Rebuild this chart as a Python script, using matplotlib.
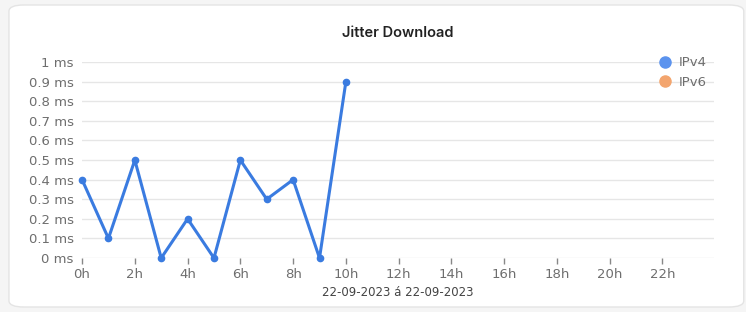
import matplotlib.pyplot as plt
from matplotlib.patches import FancyBboxPatch
from matplotlib.lines import Line2D

# Jitter per hour (ms)
hours = [0, 1, 2, 3, 4, 5, 6, 7, 8, 9, 10]
ipv4_jitter = [0.4, 0.1, 0.5, 0.0, 0.2, 0.0, 0.5, 0.3, 0.4, 0.0, 0.9]
x_ticks = list(range(0, 24, 2))
x_tick_labels = [f"{h}h" for h in x_ticks]
y_ticks = [0, 0.1, 0.2, 0.3, 0.4, 0.5, 0.6, 0.7, 0.8, 0.9, 1]
y_tick_labels = [f"{v:g} ms" for v in y_ticks]
series_names = ["IPv4", "IPv6"]
series_colors = ["#5b93ee", "#f3a56e"]

fig = plt.figure(figsize=(7.46, 3.12), dpi=100)
fig.patch.set_facecolor("#f5f5f5")

# card background
card = FancyBboxPatch((0.012, 0.016), 0.985, 0.968, boxstyle="round,pad=0,rounding_size=0.02",
                      transform=fig.transFigure, facecolor="white", edgecolor="#e4e4e4",
                      linewidth=1, zorder=-10)
fig.patches.append(card)

ax = fig.add_axes([0.110, 0.173, 0.847, 0.628])
ax.set_facecolor("none")
ax.plot(hours, ipv4_jitter, color="#3a7be0", linewidth=2.2, marker="o",
        markersize=4.5, clip_on=False, zorder=3)

ax.set_xlim(0, 23.95)
ax.set_ylim(0, 1)
ax.set_xticks(x_ticks)
ax.set_xticklabels(x_tick_labels)
ax.set_yticks(y_ticks)
ax.set_yticklabels(y_tick_labels)
ax.tick_params(axis="x", colors="#888888", labelcolor="#6e6e6e", length=4, width=1,
               direction="out", labelsize=9.5, pad=3)
ax.tick_params(axis="y", length=0, labelcolor="#6e6e6e", labelsize=9.5, pad=6)
ax.grid(axis="y", color="#e6e6e6", linewidth=1)
ax.set_axisbelow(True)
for s in ax.spines.values():
    s.set_visible(False)

ax.set_title("Jitter Download", fontsize=10.5, fontweight="semibold", color="#222222",
             family="Inter", pad=18)
ax.set_xlabel("22-09-2023 á 22-09-2023", fontsize=8.5, color="#444444", labelpad=4)

handles = [Line2D([], [], linestyle="none", marker="o", markersize=8,
                  markerfacecolor=c, markeredgecolor=c) for c in series_colors]
ax.legend(handles, series_names, loc="upper right", bbox_to_anchor=(1.008, 1.09),
          frameon=False, fontsize=9.5, labelcolor="#6e6e6e", handletextpad=0.5,
          handlelength=1.2, labelspacing=0.5)

fig.savefig("out.png", dpi=100)
